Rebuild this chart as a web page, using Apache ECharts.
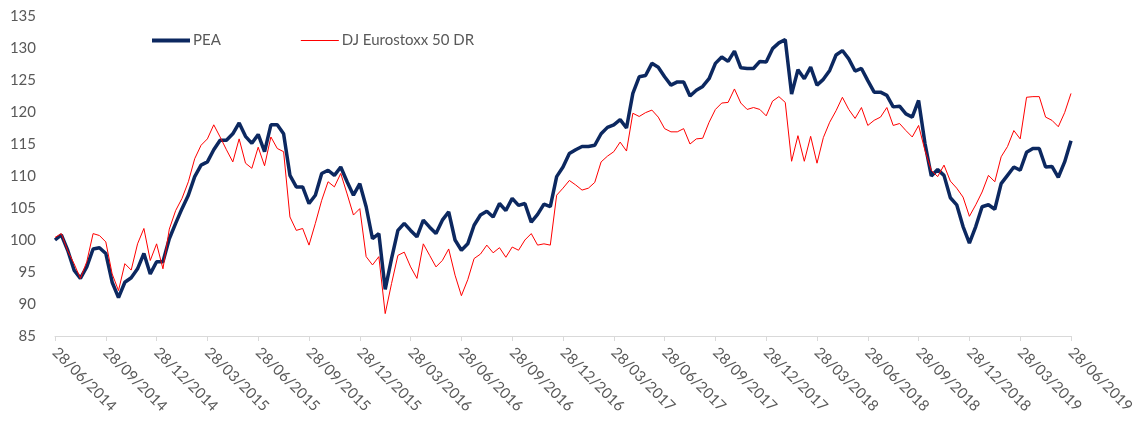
<!DOCTYPE html>
<html>
<head>
<meta charset="utf-8">
<script src="https://cdn.jsdelivr.net/npm/echarts@6/dist/echarts.min.js"></script>
<style>
html,body{margin:0;padding:0;background:#fff;}
#chart{width:1139px;height:427px;}
</style>
</head>
<body>
<div id="chart"></div>
<script>
const tickLabels = ["28/06/2014","28/09/2014","28/12/2014","28/03/2015","28/06/2015","28/09/2015","28/12/2015","28/03/2016","28/06/2016","28/09/2016","28/12/2016","28/03/2017","28/06/2017","28/09/2017","28/12/2017","28/03/2018","28/06/2018","28/09/2018","28/12/2018","28/03/2019","28/06/2019"];
const pointsPerTick = 8;

const peaValues = [
100,100.8,98.4,95.3,94.0,95.8,98.6,98.8,
97.9,93.4,91.0,93.4,94.1,95.5,97.9,94.7,
96.6,96.6,100.2,102.6,104.9,107,109.9,111.7,
112.2,114.1,115.6,115.6,116.6,118.3,116.2,115.1,
116.5,113.8,118,118,116.6,110.1,108.3,108.3,
105.7,107,110.4,110.9,110.1,111.4,109.1,107,
108.8,105.2,100.2,101,92.3,97.1,101.5,102.6,
101.5,100.5,103.1,102,101,103.1,104.4,100,
98.4,99.4,102.3,103.9,104.5,103.6,105.7,104.6,
106.5,105.4,105.7,102.8,104,105.6,105.2,109.9,
111.4,113.5,114.1,114.6,114.6,114.8,116.6,117.6,
118,118.8,117.5,122.9,125.5,125.7,127.6,127,
125.5,124.2,124.7,124.7,122.5,123.4,124.0,125.2,
127.6,128.6,127.9,129.5,126.9,126.8,126.8,127.9,
127.8,129.9,130.8,131.3,122.8,126.6,125.2,127,
124.2,125.1,126.5,128.9,129.6,128.3,126.4,126.8,
124.9,123.1,123.1,122.6,120.8,120.9,119.7,119.2,
121.8,115.1,110,111,110.1,106.6,105.5,102.1,
99.5,102.1,105.2,105.5,104.8,108.8,110.1,111.4,
110.9,113.7,114.3,114.3,111.4,111.5,109.8,112.2,
115.5
];

const euroValues = [
100.4,101,98.3,96.3,94.0,96.6,101,100.7,
99.7,94.7,92.1,96.3,95.3,99.4,101.8,96.8,
99.4,95.5,101.7,104.6,106.5,109.1,112.7,114.8,
115.8,118,116.1,114.1,112.2,115.8,112,111.2,
114.5,111.6,116.1,114.3,113.8,103.6,101.5,101.8,
99.2,102.6,106.2,109.1,108.3,110.4,107.2,103.9,
104.9,97.4,96.1,97.4,88.5,93.2,97.6,98.1,
95.8,94.0,99.4,97.6,95.8,96.8,98.6,94.5,
91.3,93.8,97.1,97.8,99.2,98,98.8,97.3,
98.9,98.4,100,101,99.2,99.4,99.2,107,
108.1,109.3,108.6,107.8,108.1,109,112.2,113.1,
113.8,115.3,113.9,119.8,119.3,119.9,120.3,119.2,
117.4,116.9,116.9,117.4,115.0,115.8,115.9,118.4,
120.4,121.4,121.5,123.6,121.4,120.4,120.7,120.4,
119.4,121.7,122.4,121.5,112.3,116.3,112.3,116.2,
112,116,118.4,120.2,122.3,120.4,119,120.7,
117.9,118.7,119.2,120.7,117.9,118.2,117.1,116.1,
117.9,114,110.9,109.9,111.7,109.2,108.1,106.7,
103.7,105.5,107.5,110.1,109.1,113.0,114.6,117.1,
115.8,122.3,122.4,122.4,119.2,118.7,117.7,119.9,
122.9
];

const seriesNames = ["PEA", "DJ Eurostoxx 50 DR"];

const categories = peaValues.map((_, i) =>
  i % pointsPerTick === 0 ? tickLabels[i / pointsPerTick] : "p" + i);

const font = "Lato, 'Noto Sans', sans-serif";
const textColor = "#595959";

const chart = echarts.init(document.getElementById("chart"), null, {renderer: "canvas"});
chart.setOption({
  animation: false,
  backgroundColor: "#ffffff",
  grid: {left: 55, right: 68, top: 16, bottom: 91, containLabel: false},
  legend: {
    left: 147,
    top: 28,
    itemWidth: 38,
    itemHeight: 16,
    itemGap: 80,
    textStyle: {color: textColor, fontSize: 15, fontFamily: font, padding: [0, 0, 0, -2]},
    data: [
      {name: seriesNames[0], icon: "path://M0,6H40V10H0Z"},
      {name: seriesNames[1], icon: "path://M0,7.5H40V8.5H0Z"}
    ]
  },
  xAxis: {
    type: "category",
    boundaryGap: false,
    data: categories,
    axisLine: {lineStyle: {color: "#d9d9d9", width: 1}},
    axisTick: {show: true, interval: pointsPerTick - 1, length: 5, lineStyle: {color: "#d9d9d9"}},
    axisLabel: {
      interval: pointsPerTick - 1,
      rotate: -45,
      margin: 14,
      color: textColor,
      fontSize: 15,
      fontFamily: font,
      formatter: (v) => v
    },
    splitLine: {show: false}
  },
  yAxis: {
    type: "value",
    min: 85,
    max: 135,
    interval: 5,
    axisLine: {show: false},
    axisTick: {show: false},
    splitLine: {show: false},
    axisLabel: {color: textColor, fontSize: 15, fontFamily: font, margin: 19}
  },
  series: [
    {
      name: seriesNames[0],
      type: "line",
      data: peaValues,
      symbol: "none",
      color: "#0c2860",
      lineStyle: {color: "#0c2860", width: 3.5},
      z: 2
    },
    {
      name: seriesNames[1],
      type: "line",
      data: euroValues,
      symbol: "none",
      color: "#ff0000",
      lineStyle: {color: "#ff0000", width: 1},
      z: 3
    }
  ]
});
</script>
</body>
</html>
